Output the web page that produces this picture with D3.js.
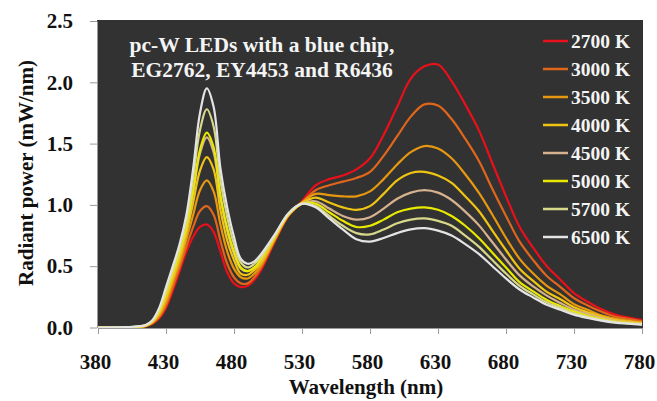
<!DOCTYPE html>
<html>
<head>
<meta charset="utf-8">
<script src="https://cdn.jsdelivr.net/npm/d3@7"></script>
<style>
  body { margin: 0; background: #fff; }
  svg text { font-family: "Liberation Serif", "Times New Roman", serif; font-weight: bold; }
</style>
</head>
<body>
<svg id="chart" width="657" height="401"></svg>
<script>
// wavelength grid (nm)
var wavelengths = [380, 400, 410, 415, 420, 425, 430, 435, 440, 445, 450, 455, 460, 465, 470, 475, 480, 485, 490, 495, 500, 510, 520, 530,
  540, 550, 560, 570, 580, 590, 600, 610, 620, 630, 640, 650, 660, 670, 680, 690, 700, 710, 720, 730, 740, 750, 760, 770, 780];

// radiant power (mW/nm), one array per CCT
var cct2700 = [0, 0, .002, .01, .03, .075, .16, .30, .46, .62, .74, .82, .84, .78, .62, .45, .36, .33, .34, .39, .47, .70, .91, 1.03,
  1.16, 1.21, 1.24, 1.29, 1.38, 1.57, 1.80, 2.03, 2.13, 2.145, 2.01, 1.82, 1.61, 1.34, 1.07, .82, .65, .50, .39, .28, .21, .15, .105, .08, .06];
var cct3000 = [0, 0, .003, .011, .034, .085, .18, .33, .49, .66, .82, .95, .99, .92, .71, .52, .41, .36, .36, .41, .49, .71, .91, 1.02,
  1.12, 1.16, 1.19, 1.22, 1.27, 1.40, 1.56, 1.72, 1.82, 1.81, 1.70, 1.54, 1.36, 1.13, .91, .70, .55, .42, .33, .24, .18, .13, .09, .07, .05];
var cct3500 = [0, 0, .005, .013, .04, .10, .21, .37, .53, .72, .92, 1.12, 1.20, 1.11, .84, .62, .48, .41, .40, .44, .51, .72, .92, 1.02,
  1.09, 1.08, 1.07, 1.07, 1.11, 1.21, 1.33, 1.43, 1.48, 1.46, 1.38, 1.25, 1.10, .92, .73, .56, .44, .34, .27, .19, .145, .10, .073, .055, .042];
var cct4000 = [0, 0, .006, .015, .045, .115, .24, .40, .57, .77, 1.02, 1.28, 1.39, 1.29, .96, .71, .55, .44, .43, .47, .53, .73, .92, 1.015,
  1.06, 1.02, .98, .96, .99, 1.09, 1.20, 1.26, 1.27, 1.24, 1.18, 1.07, .95, .79, .63, .48, .38, .29, .23, .165, .125, .09, .063, .048, .036];
var cct4500 = [0, 0, .007, .016, .049, .13, .27, .43, .60, .81, 1.10, 1.42, 1.55, 1.43, 1.06, .79, .60, .48, .46, .49, .55, .74, .92, 1.01,
  1.03, .97, .91, .88, .90, .97, 1.05, 1.10, 1.12, 1.10, 1.04, .945, .835, .695, .555, .425, .335, .26, .20, .145, .11, .078, .055, .042, .032];
var cct5000 = [0, 0, .007, .017, .05, .135, .275, .44, .61, .82, 1.12, 1.45, 1.59, 1.47, 1.08, .81, .62, .49, .46, .49, .56, .74, .92, 1.01,
  1.01, .94, .87, .82, .83, .88, .94, .97, .98, .96, .91, .83, .73, .61, .49, .37, .295, .225, .175, .13, .095, .068, .048, .037, .028];
var cct5700 = [0, .002, .009, .018, .055, .15, .30, .47, .65, .87, 1.22, 1.61, 1.78, 1.64, 1.20, .90, .68, .53, .49, .52, .58, .75, .93, 1.01,
  .99, .91, .83, .77, .76, .80, .85, .88, .89, .87, .83, .75, .66, .55, .44, .34, .27, .205, .16, .115, .086, .062, .044, .034, .026];
var cct6500 = [0, .003, .01, .02, .06, .16, .33, .50, .68, .92, 1.30, 1.75, 1.95, 1.80, 1.30, .98, .74, .56, .52, .54, .60, .76, .93, 1.01,
  .98, .89, .80, .72, .70, .73, .77, .80, .81, .79, .75, .68, .60, .50, .40, .31, .245, .185, .145, .105, .078, .056, .04, .031, .024];

var seriesNames = ["2700 K", "3000 K", "3500 K", "4000 K", "4500 K", "5000 K", "5700 K", "6500 K"];
var seriesValues = [cct2700, cct3000, cct3500, cct4000, cct4500, cct5000, cct5700, cct6500];
var seriesColors = ["#e8101a", "#e0661c", "#e89810", "#f0c412", "#d6b28e", "#e8e800", "#d8d88a", "#e4e4e4"];

var xTicks = [380, 430, 480, 530, 580, 630, 680, 730, 780];
var yTicks = [0, 0.5, 1.0, 1.5, 2.0, 2.5];

var svg = d3.select("#chart");

var x = d3.scaleLinear().domain([380, 780]).range([98, 642]);
var y = d3.scaleLinear().domain([0, 2.5]).range([327.5, 21]);

// dark plot area
svg.append("rect")
  .attr("x", 97).attr("y", 20)
  .attr("width", 546).attr("height", 308)
  .attr("fill", "#323232");

svg.append("clipPath").attr("id", "plotclip")
  .append("rect").attr("x", 97).attr("y", 20).attr("width", 546).attr("height", 308);

// axes
var yAxis = svg.append("g")
  .attr("transform", "translate(97,0)")
  .call(d3.axisLeft(y).tickValues(yTicks).tickFormat(d3.format(".1f")).tickSize(7).tickPadding(17).tickSizeOuter(0));
var xAxis = svg.append("g")
  .attr("transform", "translate(0,328)")
  .call(d3.axisBottom(x).tickValues(xTicks).tickSize(6).tickPadding(20).tickSizeOuter(0));

[xAxis, yAxis].forEach(function (g) {
  g.select(".domain").attr("stroke", "#9a9a9a");
  g.selectAll(".tick line").attr("stroke", "#9a9a9a");
  g.selectAll(".tick text").attr("fill", "#111").style("font-size", "21px");
});
xAxis.selectAll(".tick text").attr("dx", "-3");

// spectra
var line = d3.line()
  .x(function (d, i) { return x(wavelengths[i]); })
  .y(function (d) { return y(d); })
  .curve(d3.curveCatmullRom);

svg.append("g").attr("clip-path", "url(#plotclip)")
  .selectAll("path")
  .data(seriesValues)
  .enter().append("path")
  .attr("d", line)
  .attr("fill", "none")
  .attr("stroke", function (d, i) { return seriesColors[i]; })
  .attr("stroke-width", 2.2);

// legend
var legend = svg.append("g");
seriesNames.forEach(function (name, i) {
  var ly = 41 + i * 28;
  legend.append("line")
    .attr("x1", 543).attr("x2", 568).attr("y1", ly).attr("y2", ly)
    .attr("stroke", seriesColors[i]).attr("stroke-width", 2.5);
  legend.append("text")
    .attr("x", 571).attr("y", ly).attr("dy", "0.35em")
    .attr("fill", "#f4f4f4").style("font-size", "19.5px")
    .text(name);
});

// annotation inside plot
var note = svg.append("text").attr("text-anchor", "middle").attr("fill", "#f4f4f4").style("font-size", "21.5px");
note.append("tspan").attr("x", 262).attr("y", 52).text("pc-W LEDs with a blue chip,");
note.append("tspan").attr("x", 262).attr("y", 77).text("EG2762, EY4453 and R6436");

// axis titles
svg.append("text")
  .attr("x", 366).attr("y", 394)
  .attr("text-anchor", "middle").attr("fill", "#111").style("font-size", "21px")
  .text("Wavelength (nm)");
svg.append("text")
  .attr("transform", "translate(33,173) rotate(-90)")
  .attr("text-anchor", "middle").attr("fill", "#111").style("font-size", "21px")
  .text("Radiant power (mW/nm)");
</script>
</body>
</html>
